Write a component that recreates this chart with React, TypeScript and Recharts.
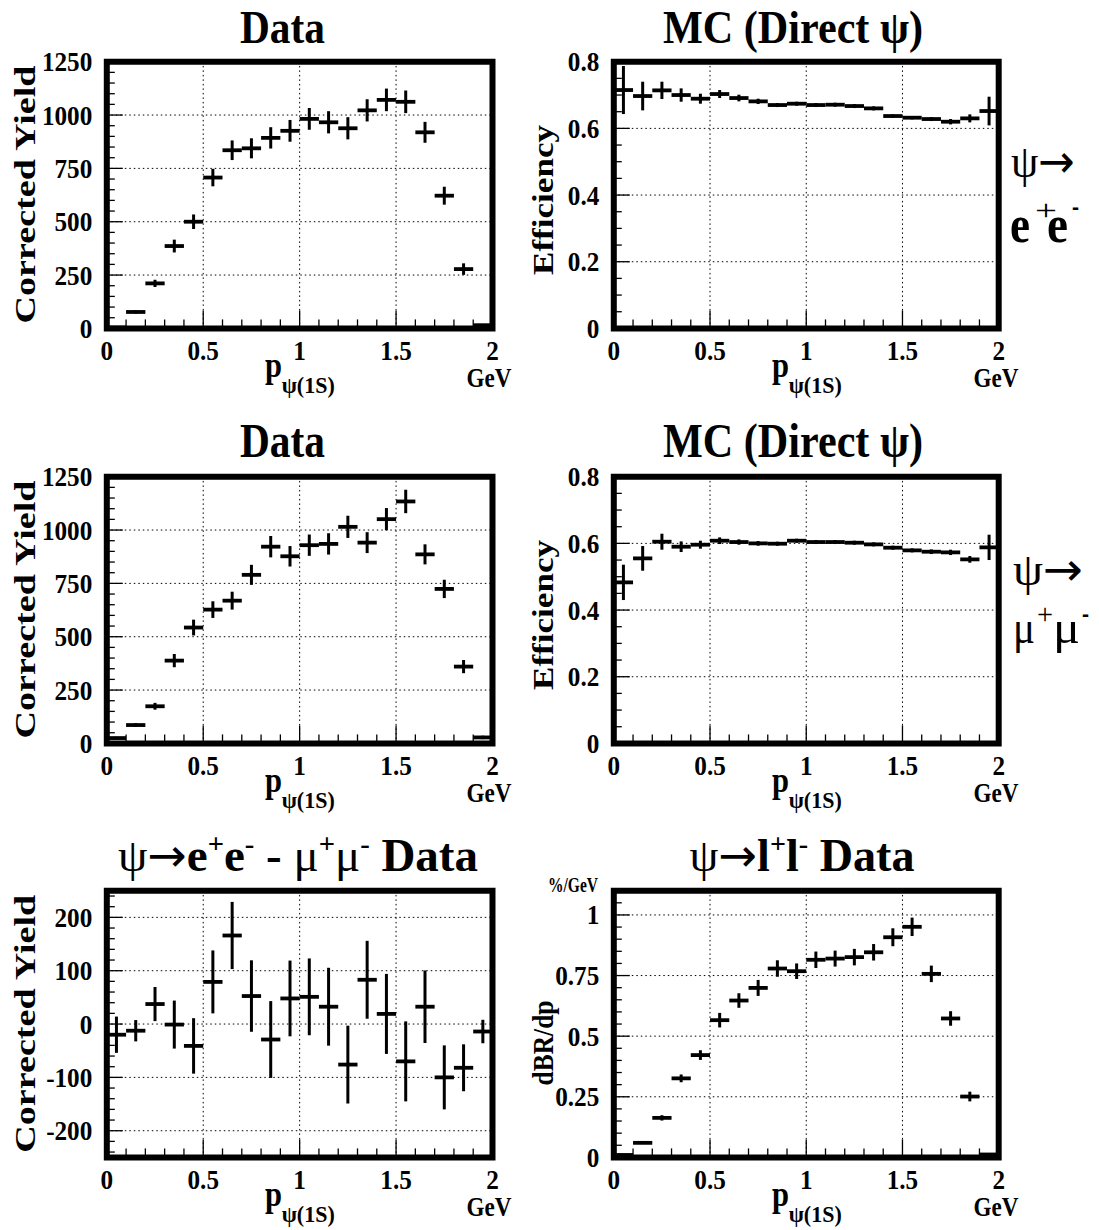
import React from "react";
import { ScatterChart, Scatter, XAxis, YAxis, ErrorBar, ReferenceLine, ReferenceArea } from "recharts";

const FONT = "'Liberation Serif', 'Times New Roman', serif";
const ARROW_FONT = "'DejaVu Sans', sans-serif";

// bin centres in p (GeV), width 0.1
const binCenters = [0.05, 0.15, 0.25, 0.35, 0.45, 0.55, 0.65, 0.75, 0.85, 0.95, 1.05, 1.15, 1.25, 1.35, 1.45, 1.55, 1.65, 1.75, 1.85, 1.95];
const binHalfWidth = 0.05;

// psi -> e+e- data yield
const eeYield = [4, 77, 211, 386, 500, 707, 835, 844, 893, 926, 982, 966, 938, 1022, 1071, 1062, 919, 622, 278, 15];
const eeYieldErr = [6, 8, 17, 30, 34, 41, 46, 47, 50, 51, 51, 52, 52, 52, 53, 53, 49, 42, 27, 5];
// psi -> e+e- MC efficiency
const eeEff = [0.715, 0.697, 0.714, 0.7, 0.689, 0.703, 0.691, 0.681, 0.67, 0.674, 0.67, 0.671, 0.667, 0.66, 0.637, 0.632, 0.628, 0.62, 0.63, 0.652];
const eeEffErr = [0.072, 0.043, 0.026, 0.02, 0.015, 0.012, 0.01, 0.008, 0.006, 0.006, 0.006, 0.006, 0.006, 0.006, 0.005, 0.005, 0.006, 0.008, 0.012, 0.043];
// psi -> mu+mu- data yield
const mmYield = [25, 86, 174, 388, 543, 627, 669, 790, 922, 877, 929, 935, 1015, 941, 1051, 1134, 886, 724, 360, 28];
const mmYieldErr = [6, 9, 16, 31, 37, 39, 42, 47, 50, 48, 50, 50, 52, 49, 52, 55, 47, 43, 31, 8];
// psi -> mu+mu- MC efficiency
const mmEff = [0.483, 0.555, 0.605, 0.59, 0.596, 0.608, 0.604, 0.6, 0.599, 0.608, 0.604, 0.604, 0.602, 0.597, 0.587, 0.579, 0.575, 0.573, 0.552, 0.588];
const mmEffErr = [0.053, 0.037, 0.024, 0.016, 0.012, 0.01, 0.008, 0.007, 0.006, 0.006, 0.006, 0.006, 0.006, 0.006, 0.006, 0.006, 0.007, 0.008, 0.01, 0.038];
// ee - mumu difference
const diffYield = [-20, -12.5, 37.5, -1, -41, 79, 166, 52.5, -29, 48, 51, 32.5, -76, 83, 19, -70, 32.5, -100, -82, -14];
const diffYieldErr = [34, 20, 32, 45, 52, 59, 63, 67, 72, 71, 72, 73, 73, 73, 75, 75, 68, 60, 44, 22];
// combined dBR/dp (%/GeV)
const dBR = [0.01, 0.06, 0.163, 0.326, 0.422, 0.566, 0.647, 0.699, 0.779, 0.768, 0.815, 0.82, 0.826, 0.846, 0.908, 0.951, 0.757, 0.573, 0.251, 0.012];
const dBRErr = [0.004, 0.005, 0.011, 0.016, 0.02, 0.03, 0.03, 0.033, 0.034, 0.032, 0.034, 0.033, 0.034, 0.034, 0.037, 0.038, 0.034, 0.03, 0.02, 0.005];

// axes
const xMajor = [0, 0.5, 1, 1.5, 2];
const xLabels = ["0", "0.5", "1", "1.5", "2"];
const yieldMajor = [0, 250, 500, 750, 1000, 1250];
const yieldLabels = ["0", "250", "500", "750", "1000", "1250"];
const effMajor = [0, 0.2, 0.4, 0.6, 0.8];
const effLabels = ["0", "0.2", "0.4", "0.6", "0.8"];
const diffMajor = [-200, -100, 0, 100, 200];
const diffLabels = ["-200", "-100", "0", "100", "200"];
const brMajor = [0, 0.25, 0.5, 0.75, 1];
const brLabels = ["0", "0.25", "0.5", "0.75", "1"];

// minor ticks on the grid of `step`, inside [lo, hi]
const steps = (lo: number, hi: number, step: number) => {
  const first = Math.ceil(lo / step - 1e-9);
  const last = Math.floor(hi / step + 1e-9);
  return Array.from({ length: last - first + 1 }, (_, i) => +((first + i) * step).toFixed(6));
};

const labelFor = (v: number, major: number[], labels: string[]) => {
  const i = major.findIndex((m) => Math.abs(m - v) < 1e-6);
  return i >= 0 ? labels[i] : null;
};

const rows = [0, 415, 829.3];
const rowH = [415, 415, 400.7];
const cols = [0, 540];
const colW = [540, 559];
const plotLeft = [106.8, 613.8];
const plotRight = [492.5, 998.7];
const PLOT_TOP = 61.7;
const PLOT_H = 266.7;

const gridStyle = { stroke: "#000", strokeWidth: 1, strokeDasharray: "1.5 3" };

function XTick(props: any) {
  const { x, y, payload } = props;
  const lab = labelFor(payload.value, xMajor, xLabels);
  return (
    <g>
      <line x1={x} x2={x} y1={y} y2={y - (lab !== null ? 18 : 9)} stroke="#000" strokeWidth={1.3} />
      {lab !== null && (
        <text transform={`translate(${x},${y + 32}) scale(0.9,1)`} textAnchor="middle" fontFamily={FONT} fontWeight="bold" fontSize={28}>
          {lab}
        </text>
      )}
    </g>
  );
}

function makeYTick(major: number[], labels: string[]) {
  return (props: any) => {
    const { x, y, payload } = props;
    const lab = labelFor(payload.value, major, labels);
    return (
      <g>
        <line x1={x} x2={x + (lab !== null ? 16 : 8)} y1={y} y2={y} stroke="#000" strokeWidth={1.3} />
        {lab !== null && (
          <text transform={`translate(${x - 14.5},${y + 9.5}) scale(0.9,1)`} textAnchor="end" fontFamily={FONT} fontWeight="bold" fontSize={28}>
            {lab}
          </text>
        )}
      </g>
    );
  };
}

interface PanelProps {
  row: number;
  col: number;
  values: number[];
  errors: number[];
  yDomain: [number, number];
  yMinorStep: number;
  yMajor: number[];
  yLabels: string[];
}

function Panel({ row, col, values, errors, yDomain, yMinorStep, yMajor, yLabels }: PanelProps) {
  const data = binCenters.map((x, i) => ({ x, y: values[i], ey: errors[i], ex: binHalfWidth }));
  const w = colW[col];
  const h = rowH[row];
  const margin = {
    top: PLOT_TOP,
    left: plotLeft[col] - cols[col] - 60,
    right: cols[col] + w - plotRight[col],
    bottom: h - PLOT_TOP - PLOT_H - 30,
  };
  const yTicks = steps(yDomain[0], yDomain[1], yMinorStep);
  const yGrid = yMajor.filter((v) => v > yDomain[0] && v < yDomain[1]);
  const YTick = makeYTick(yMajor, yLabels);
  return (
    <div style={{ position: "absolute", left: cols[col], top: rows[row], width: w, height: h }}>
      <ScatterChart width={w} height={h} margin={margin}>
        <XAxis type="number" dataKey="x" domain={[0, 2]} ticks={steps(0, 2, 0.1)} interval={0} tick={(p: any) => <XTick {...p} />}
          tickLine={false} axisLine={false} tickSize={0} tickMargin={0} height={30} allowDataOverflow />
        <YAxis type="number" dataKey="y" domain={yDomain} ticks={yTicks} interval={0} tick={(p: any) => <YTick {...p} />}
          tickLine={false} axisLine={false} tickSize={0} tickMargin={0} width={60} allowDataOverflow />
        {yGrid.map((v) => (
          <ReferenceLine key={`h${v}`} y={v} {...gridStyle} />
        ))}
        {[0.5, 1, 1.5].map((v) => (
          <ReferenceLine key={`v${v}`} x={v} {...gridStyle} />
        ))}
        <Scatter data={data} isAnimationActive={false} shape={() => <g />}>
          <ErrorBar dataKey="ey" direction="y" width={0} stroke="#000" strokeWidth={3} isAnimationActive={false} />
          <ErrorBar dataKey="ex" direction="x" width={0} stroke="#000" strokeWidth={3.8} isAnimationActive={false} />
        </Scatter>
        <ReferenceArea x1={0} x2={2} y1={yDomain[0]} y2={yDomain[1]} fill="none" stroke="#000" strokeWidth={6} ifOverflow="visible" />
      </ScatterChart>
    </div>
  );
}

function T({ x, y, size, len, anchor = "middle", bold = true, rotate = 0, family = FONT, children }: any) {
  return (
    <text
      transform={`translate(${x},${y}) rotate(${rotate})`}
      textAnchor={anchor}
      fontFamily={family}
      fontWeight={bold ? "bold" : "normal"}
      fontSize={size}
      textLength={len}
      lengthAdjust="spacingAndGlyphs"
    >
      {children}
    </text>
  );
}

function XTitle({ row, col }: { row: number; col: number }) {
  const dx = col * 507;
  const dy = rows[row];
  return (
    <g>
      <T x={265 + dx} y={376.7 + dy} size={36} len={17} anchor="start">p</T>
      <T x={281.7 + dx} y={392.7 + dy} size={24} len={53} anchor="start">ψ(1S)</T>
      <T x={489 + dx} y={386.7 + dy} size={28} len={45}>GeV</T>
    </g>
  );
}

function Overlay() {
  return (
    <svg width={1099} height={1230} style={{ position: "absolute", left: 0, top: 0, pointerEvents: "none" }}>
      {/* titles */}
      <T x={282.5} y={42.5} size={47} len={85}>Data</T>
      <T x={793} y={42.5} size={47} len={260}>MC (Direct ψ)</T>
      <T x={282.5} y={457} size={48} len={85}>Data</T>
      <T x={793} y={457} size={48} len={260}>MC (Direct ψ)</T>
      <text transform="translate(298,871)" textAnchor="middle" fontFamily={FONT} fontWeight="bold" fontSize={46} textLength={360} lengthAdjust="spacingAndGlyphs">
        <tspan fontWeight="normal">ψ</tspan><tspan fontWeight="normal" fontFamily={ARROW_FONT}>→</tspan>e<tspan fontSize={28} dy={-18}>+</tspan><tspan dy={18}>e</tspan>
        <tspan fontSize={28} dy={-18}>-</tspan><tspan dy={18}> - </tspan><tspan fontWeight="normal">μ</tspan>
        <tspan fontSize={28} dy={-18}>+</tspan><tspan dy={18} fontWeight="normal">μ</tspan><tspan fontSize={28} dy={-18}>-</tspan>
        <tspan dy={18}> Data</tspan>
      </text>
      <text transform="translate(802,871)" textAnchor="middle" fontFamily={FONT} fontWeight="bold" fontSize={46} textLength={225} lengthAdjust="spacingAndGlyphs">
        <tspan fontWeight="normal">ψ</tspan><tspan fontWeight="normal" fontFamily={ARROW_FONT}>→</tspan>l<tspan fontSize={28} dy={-18}>+</tspan><tspan dy={18}>l</tspan>
        <tspan fontSize={28} dy={-18}>-</tspan><tspan dy={18}> Data</tspan>
      </text>

      {/* y titles */}
      {rows.map((r, i) => (
        <T key={i} x={35} y={194.5 + r} size={29} len={258} rotate={-90}>Corrected Yield</T>
      ))}
      <T x={553} y={200} size={29} len={150} rotate={-90}>Efficiency</T>
      <T x={553} y={615} size={29} len={150} rotate={-90}>Efficiency</T>
      <T x={553} y={1043} size={29} len={85} rotate={-90}>dBR/dp</T>
      <T x={573} y={892} size={20} len={50}>%/GeV</T>

      {/* x titles */}
      {[0, 1, 2].map((r) => [0, 1].map((c) => <XTitle key={`${r}${c}`} row={r} col={c} />))}

      {/* decay channel labels */}
      <text transform="translate(1011,177)" fontSize={46} textLength={64} lengthAdjust="spacingAndGlyphs">
        <tspan fontFamily={FONT}>ψ</tspan><tspan fontFamily={ARROW_FONT}>→</tspan>
      </text>
      <T x={1010} y={241.7} size={52} len={20} anchor="start">e</T>
      <T x={1035} y={220} size={30} len={22} anchor="start" bold={false}>+</T>
      <T x={1047} y={241.7} size={52} len={21} anchor="start">e</T>
      <T x={1072} y={216} size={30} len={7} anchor="start">-</T>

      <text transform="translate(1013,585)" fontSize={46} textLength={70} lengthAdjust="spacingAndGlyphs">
        <tspan fontFamily={FONT}>ψ</tspan><tspan fontFamily={ARROW_FONT}>→</tspan>
      </text>
      <T x={1013} y={643} size={46} len={22} anchor="start" bold={false}>μ</T>
      <T x={1037} y={624} size={30} len={16} anchor="start" bold={false}>+</T>
      <T x={1053} y={643} size={46} len={27} anchor="start" bold={false}>μ</T>
      <T x={1082} y={623} size={30} len={7} anchor="start">-</T>
    </svg>
  );
}

export default function App() {
  return (
    <div style={{ position: "absolute", left: 0, top: 0, width: 1099, height: 1230, background: "#fff" }}>
      <Panel row={0} col={0} values={eeYield} errors={eeYieldErr} yDomain={[0, 1250]} yMinorStep={50} yMajor={yieldMajor} yLabels={yieldLabels} />
      <Panel row={0} col={1} values={eeEff} errors={eeEffErr} yDomain={[0, 0.8]} yMinorStep={0.05} yMajor={effMajor} yLabels={effLabels} />
      <Panel row={1} col={0} values={mmYield} errors={mmYieldErr} yDomain={[0, 1250]} yMinorStep={50} yMajor={yieldMajor} yLabels={yieldLabels} />
      <Panel row={1} col={1} values={mmEff} errors={mmEffErr} yDomain={[0, 0.8]} yMinorStep={0.05} yMajor={effMajor} yLabels={effLabels} />
      <Panel row={2} col={0} values={diffYield} errors={diffYieldErr} yDomain={[-250, 250]} yMinorStep={20} yMajor={diffMajor} yLabels={diffLabels} />
      <Panel row={2} col={1} values={dBR} errors={dBRErr} yDomain={[0, 1.1]} yMinorStep={0.05} yMajor={brMajor} yLabels={brLabels} />
      <Overlay />
    </div>
  );
}
